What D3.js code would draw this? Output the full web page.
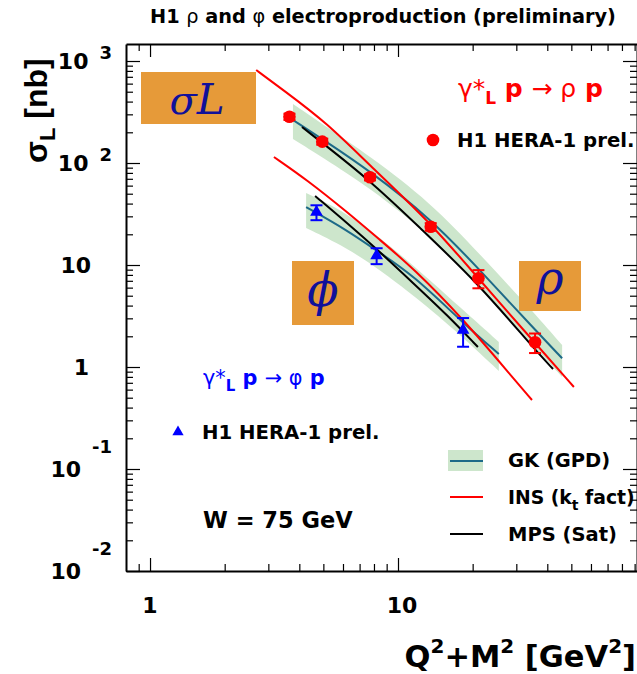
<!DOCTYPE html>
<html>
<head>
<meta charset="utf-8">
<script src="https://cdn.jsdelivr.net/npm/d3@7"></script>
<style>
  body { margin: 0; background: #fff; }
  svg { display: block; }
  text { font-family: "DejaVu Sans", sans-serif; font-weight: bold; }
</style>
</head>
<body>
<svg id="chart" width="637" height="674"></svg>
<script>
// ---- measurements: H1 rho / phi longitudinal cross sections at W = 75 GeV ----
const rhoQ2 = [3.65, 4.95, 7.71, 13.55, 21.1, 35.7];
const rhoSigma = [284, 162, 72.5, 23.7, 7.41, 1.75];
const rhoErr = [20, 11, 5, 2.0, 1.5, 0.38];

const phiQ2 = [4.69, 8.2, 18.3];
const phiSigma = [33, 12.4, 2.3];
const phiErr = [5.5, 2.2, 0.72];

// ---- model predictions ----
// GK (GPD): central value with uncertainty band
const gkRhoX = [3.77, 4.94, 7.71, 13.6, 21.0, 35.7, 45.9];
const gkRhoMid = [264, 172, 83.5, 28.2, 9.35, 2.31, 1.22];
const gkRhoHi = [379, 241, 117, 40.5, 13.4, 3.31, 1.64];
const gkRhoLo = [172, 114.5, 56.9, 19.2, 6.37, 1.57, 0.80];

const gkPhiX = [4.26, 6.23, 8.46, 11.5, 18.3, 25.5];
const gkPhiMid = [37.0, 22.0, 13.1, 7.98, 2.70, 1.34];
const gkPhiHi = [50.8, 32.3, 18.4, 10.0, 3.62, 1.76];
const gkPhiLo = [23.05, 14.7, 8.93, 5.08, 1.97, 0.914];

// INS (kt factorisation)
const insRhoX = [2.68, 3.44, 5.17, 7.71, 13.46, 21.0, 35.7, 51.2];
const insRhoY = [816, 520, 247, 94, 26.4, 7.46, 1.72, 0.637];
const insPhiX = [3.16, 4.30, 6.23, 8.46, 11.5, 18.3, 29.1, 34.7];
const insPhiY = [114.5, 68.1, 33.1, 17.6, 9.35, 2.96, 0.78, 0.475];

// MPS (saturation)
const mpsRhoX = [4.10, 7.71, 12.27, 21.0, 35.7, 42.2];
const mpsRhoY = [225, 68.1, 23.05, 6.66, 1.47, 0.956];
const mpsPhiX = [4.63, 6.23, 8.46, 11.5, 15.8, 21.0];
const mpsPhiY = [47.5, 25.8, 13.4, 6.66, 3.23, 1.57];

// ---- axes ----
const xMajor = [1, 10];
const xLabels = ["1", "10"];
const xMinor = [0.9, 2, 3, 4, 5, 6, 7, 8, 9, 20, 30, 40, 50, 60, 70, 80, 90];
const yExponents = [-2, -1, 0, 1, 2, 3];
const yMajor = yExponents.map(e => Math.pow(10, e));
const yMinor = [];
[-2, -1, 0, 1, 2].forEach(e => { for (let k = 2; k <= 9; k++) yMinor.push(k * Math.pow(10, e)); });

const legendEntries = ["GK (GPD)", "INS (k", "MPS (Sat)"];

// ---- colours ----
const RED = "#ff0000", BLUE = "#0000ff", TEAL = "#1d6a88", BAND = "#cde6cc";
const ORANGE = "#e69a39", INK = "#10109a";

const svg = d3.select("#chart");
const L = 126, R = 637, T = 44, B = 571;
const x = d3.scaleLog().domain([0.8, 92]).range([L, R]);
const y = d3.scaleLog().domain([0.01, 1468]).range([B, T]);

const zip = (xs, ...cols) => xs.map((v, i) => [v, ...cols.map(c => c[i])]);
const line = d3.line().x(d => x(d[0])).y(d => y(d[1])).curve(d3.curveBasis);
const band = d3.area().x(d => x(d[0])).y0(d => y(d[1])).y1(d => y(d[2])).curve(d3.curveBasis);

svg.append("defs").append("clipPath").attr("id", "frame")
  .append("rect").attr("x", L).attr("y", T).attr("width", R - L).attr("height", B - T);

const plot = svg.append("g").attr("clip-path", "url(#frame)");

// GK bands and central lines
[[gkRhoX, gkRhoLo, gkRhoHi], [gkPhiX, gkPhiLo, gkPhiHi]].forEach(([xs, lo, hi]) => {
  plot.append("path").attr("d", band(zip(xs, lo, hi))).attr("fill", BAND);
});
[[gkRhoX, gkRhoMid], [gkPhiX, gkPhiMid]].forEach(([xs, ys]) => {
  plot.append("path").attr("d", line(zip(xs, ys))).attr("fill", "none").attr("stroke", TEAL).attr("stroke-width", 2);
});
[[insRhoX, insRhoY], [insPhiX, insPhiY]].forEach(([xs, ys]) => {
  plot.append("path").attr("d", line(zip(xs, ys))).attr("fill", "none").attr("stroke", RED).attr("stroke-width", 2);
});
[[mpsRhoX, mpsRhoY], [mpsPhiX, mpsPhiY]].forEach(([xs, ys]) => {
  plot.append("path").attr("d", line(zip(xs, ys))).attr("fill", "none").attr("stroke", "#000").attr("stroke-width", 2);
});

// error bars with caps
function errorBars(xs, ys, es, colour) {
  const g = plot.append("g").attr("stroke", colour).attr("stroke-width", 2);
  xs.forEach((q, i) => {
    const cx = x(q), y0 = y(ys[i] - es[i]), y1 = y(ys[i] + es[i]);
    g.append("line").attr("x1", cx).attr("x2", cx).attr("y1", y0).attr("y2", y1);
    g.append("line").attr("x1", cx - 6).attr("x2", cx + 6).attr("y1", y0).attr("y2", y0);
    g.append("line").attr("x1", cx - 6).attr("x2", cx + 6).attr("y1", y1).attr("y2", y1);
  });
}
errorBars(rhoQ2, rhoSigma, rhoErr, RED);
errorBars(phiQ2, phiSigma, phiErr, BLUE);

const tri = d3.symbol().type(d3.symbolTriangle).size(70);
plot.selectAll("circle.rho").data(zip(rhoQ2, rhoSigma)).join("circle")
  .attr("cx", d => x(d[0])).attr("cy", d => y(d[1])).attr("r", 6.3).attr("fill", RED);
plot.selectAll("path.phi").data(zip(phiQ2, phiSigma)).join("path")
  .attr("transform", d => `translate(${x(d[0])},${y(d[1])})`).attr("d", tri).attr("fill", BLUE);

// frame with inward ticks on all four sides
function axisGroup(axis, tx, ty, size, values, withDomain) {
  const g = svg.append("g").attr("transform", `translate(${tx},${ty})`)
    .call(axis.tickValues(values).tickSize(-size).tickSizeOuter(0).tickFormat(""));
  g.selectAll(".tick line").attr("stroke", "#000").attr("stroke-width", 1.2);
  g.select(".domain").attr("stroke", "#000").attr("stroke-width", 2).style("display", withDomain ? null : "none");
  return g;
}
axisGroup(d3.axisBottom(x), 0, B, 13, xMajor, true);
axisGroup(d3.axisBottom(x), 0, B, 7, xMinor, false);
axisGroup(d3.axisTop(x), 0, T, 13, xMajor, true);
axisGroup(d3.axisTop(x), 0, T, 7, xMinor, false);
axisGroup(d3.axisLeft(y), L, 0, 14, yMajor, true);
axisGroup(d3.axisLeft(y), L, 0, 7, yMinor, false);
axisGroup(d3.axisRight(y), R, 0, 14, yMajor, true);
axisGroup(d3.axisRight(y), R, 0, 7, yMinor, false);

// rich text helper: parts = [text, {size, weight, dy, style}]
function rich(parent, px, py, parts, opts = {}) {
  const t = parent.append("text").attr("x", px).attr("y", py)
    .attr("font-size", opts.size || 20).attr("fill", opts.fill || "#000")
    .attr("text-anchor", opts.anchor || "start");
  if (opts.transform) t.attr("transform", opts.transform);
  if (opts.family) t.style("font-family", opts.family);
  if (opts.weight) t.style("font-weight", opts.weight);
  if (opts.italic) t.style("font-style", "italic");
  parts.forEach(p => {
    const [s, o = {}] = Array.isArray(p) ? p : [p];
    const ts = t.append("tspan").text(s);
    if (o.size) ts.attr("font-size", o.size);
    if (o.weight) ts.style("font-weight", o.weight);
    if (o.dy) ts.attr("dy", o.dy);
    if (o.style) ts.style("font-style", o.style);
  });
  return t;
}

// y tick labels
const TICK_FS = 22, EXP_FS = 18;
yExponents.forEach((e, i) => {
  const yc = y(yMajor[i]), base = yc + 8;
  if (e === 0) { rich(svg, 89, base, ["1"], { size: TICK_FS, anchor: "end" }); return; }
  if (e === 1) { rich(svg, 91, base, ["10"], { size: TICK_FS, anchor: "end" }); return; }
  const raise = e > 0 ? 10 : 24;
  const ex = rich(svg, 112, base - raise, [String(e)], { size: EXP_FS, anchor: "end" });
  const w = ex.node().getComputedTextLength();
  rich(svg, 112 - w - 11, base, ["10"], { size: TICK_FS, anchor: "end" });
});

// x tick labels
xMajor.forEach((v, i) => {
  rich(svg, x(v) + (i ? 4 : 0), 613, [xLabels[i]], { size: TICK_FS, anchor: "middle" });
});

// axis titles
rich(svg, 636, 667, ["Q", ["2", { size: 20, dy: -14 }], ["+M", { dy: 14 }], ["2", { size: 20, dy: -14 }],
  [" [GeV", { dy: 14 }], ["2", { size: 20, dy: -14 }], ["]", { dy: 14 }]], { size: 30.5, anchor: "end" });

rich(svg, 0, 0, ["σ", ["L", { size: 22, dy: 8 }], [" [nb]", { dy: -8 }]],
  { size: 32, transform: "translate(47,163) rotate(-90)", family: "'Liberation Sans', Arial, sans-serif" });

// title
rich(svg, 150, 23, ["H1 ", ["ρ", { weight: "normal" }], " and ", ["φ", { weight: "normal" }], " electroproduction (preliminary)"],
  { size: 19.3 });

// reaction labels
rich(svg, 458, 97, [["γ*", { weight: "normal" }], ["L", { size: 17, dy: 7 }], [" p ", { dy: -7 }],
  ["→ ρ", { weight: "normal" }], " p"], { size: 25, fill: RED });
rich(svg, 203, 385, [["γ*", { weight: "normal" }], ["L", { size: 15, dy: 6 }], [" p ", { dy: -6 }],
  ["→ φ", { weight: "normal" }], " p"], { size: 20.8, fill: BLUE });

// data legends
svg.append("circle").attr("cx", 433).attr("cy", 140).attr("r", 6.3).attr("fill", RED);
rich(svg, 457, 147, ["H1 HERA-1 prel."], { size: 19.7 });
svg.append("path").attr("transform", "translate(178,432)").attr("d", d3.symbol().type(d3.symbolTriangle).size(55)).attr("fill", BLUE);
rich(svg, 202, 439, ["H1 HERA-1 prel."], { size: 19.7 });

rich(svg, 203, 528, ["W = 75 GeV"], { size: 22.5 });

// model legend
svg.append("rect").attr("x", 448).attr("y", 450).attr("width", 35).attr("height", 21).attr("fill", BAND);
svg.append("line").attr("x1", 450).attr("x2", 483).attr("y1", 461).attr("y2", 461).attr("stroke", TEAL).attr("stroke-width", 2);
svg.append("line").attr("x1", 450).attr("x2", 483).attr("y1", 497).attr("y2", 497).attr("stroke", RED).attr("stroke-width", 2);
svg.append("line").attr("x1", 450).attr("x2", 483).attr("y1", 534).attr("y2", 534).attr("stroke", "#000").attr("stroke-width", 2);
rich(svg, 508, 467, [legendEntries[0]], { size: 19.5 });
rich(svg, 508, 504, [legendEntries[1], ["t", { size: 14, dy: 6 }], [" fact)", { dy: -6 }]], { size: 18.8 });
rich(svg, 508, 541, [legendEntries[2]], { size: 19.5 });

// orange tags with math-italic symbols
function tag(x0, y0, w, h, parts, cx, cy, fs) {
  svg.append("rect").attr("x", x0).attr("y", y0).attr("width", w).attr("height", h).attr("fill", ORANGE);
  rich(svg, cx, cy, parts, { size: fs, fill: INK, anchor: "middle", weight: "normal", italic: true,
    family: "'DejaVu Serif', 'Liberation Serif', serif" });
}
tag(141, 72, 115, 52, ["σ", ["L", { size: 42, style: "italic" }]], 197, 114, 40);
tag(292, 261, 62, 64, ["ϕ"], 323, 306, 46);
tag(519, 261, 62, 50, ["ρ"], 550, 294, 46);
</script>
</body>
</html>
